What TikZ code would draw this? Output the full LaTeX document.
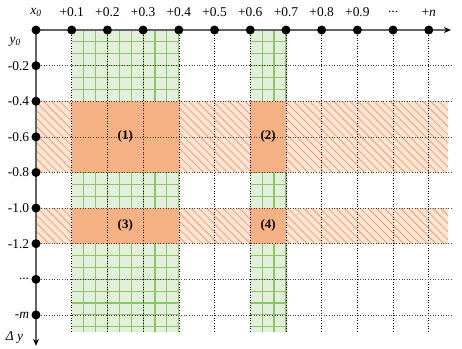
\documentclass[tikz,border=0pt]{standalone}
\usepackage{fontspec}
\setmainfont{Liberation Serif}
\usetikzlibrary{arrows.meta,patterns.meta}
\definecolor{bandgreen}{RGB}{226,239,218}
\definecolor{gridgreen}{RGB}{140,196,102}
\definecolor{bandorange}{RGB}{252,228,214}
\definecolor{hatchorange}{RGB}{245,160,95}
\definecolor{cellorange}{RGB}{244,177,131}
\definecolor{axisgray}{RGB}{100,100,100}

\tikzset{
  dot/.style={circle, fill=black, inner sep=0pt, minimum size=9bp},
  ticklabel/.style={inner sep=1bp},
  blocklabel/.style={font=\fontsize{13}{15}\selectfont\bfseries},
}

\begin{document}
\begin{tikzpicture}[>=stealth, x=35.7bp, y=35.6bp, font=\fontsize{13.5}{15}\selectfont]
  \useasboundingbox (-1.008,0.843) rectangle (11.93,-8.93);
  % green columns (x from +0.1 to +0.4 and +0.6 to +0.7), fine grid inside
  \foreach \a/\b in {1/4,6/7} {
    \fill[bandgreen] (\a,0) rectangle (\b,-8.48);
    \draw[gridgreen, line width=1.1bp, step={(1/3,1/3)}] (\a,0) grid (\b,-8.48);
  }
  % orange hatched rows (y from -0.4 to -0.8 and -1.0 to -1.2)
  \foreach \a/\b in {-2/-4,-5/-6} {
    \fill[bandorange] (0,\a) rectangle (11.54,\b);
    \fill[pattern={Lines[angle=-45,distance=5.7bp,line width=0.8bp]}, pattern color=hatchorange]
      (0,\a) rectangle (11.54,\b);
  }
  % where a column meets a row
  \foreach \a/\b in {1/4,6/7} \foreach \c/\d in {-2/-4,-5/-6}
    \fill[cellorange] (\a,\c) rectangle (\b,\d);
  % dotted grid
  \foreach \i in {1,...,11} \draw[dotted, line width=0.6bp] (\i,0) -- (\i,-8.48);
  \foreach \j in {1,...,8} \draw[dotted, line width=0.6bp, black!75] (0,-\j) -- (11.65,-\j);
  % axes
  \draw[axisgray, line width=1.3bp, -{Stealth[length=7bp, width=6bp, black]}] (0,0) -- (11.62,0);
  \draw[axisgray, line width=1.3bp, -{Stealth[length=7bp, width=6bp, black]}] (0,0) -- (0,-8.87);
  \foreach \i in {0,...,11} \node[dot] (x\i) at (\i,0) {};
  \foreach \j in {1,...,8} \node[dot] (y\j) at (0,-\j) {};
  % labels along x
  \node[ticklabel] (lx0) at (0,0.5) {\textit{x\textsubscript{0}}};
  \foreach \i/\t in {1/+0.1,2/+0.2,3/+0.3,4/+0.4,5/+0.5,6/+0.6,7/+0.7,8/+0.8,9/+0.9}
    \node[ticklabel] (lx\i) at (\i,0.5) {\t};
  \node[ticklabel] (lx10) at (10,0.5) {...};
  \node[ticklabel] (lx11) at (11,0.5) {+\textit{n}};
  % labels along y
  \node[ticklabel] (ly0) at (-0.58,-0.34) {\textit{y\textsubscript{0}}};
  \foreach \j/\t in {1/-0.2,2/-0.4,3/-0.6,4/-0.8,5/-1.0,6/-1.2}
    \node[ticklabel, anchor=east] (ly\j) at ([xshift=-1bp]y\j.west) {\t};
  \node[ticklabel, anchor=east] (ly7) at ([xshift=-1bp]y7.west) {...};
  \node[ticklabel, anchor=east] (ly8) at ([xshift=-1bp]y8.west) {-\textit{m}};
  \node[ticklabel] (ldy) at (-0.6,-8.63) {\textit{Δ y}};
  % the four blocks
  \node[blocklabel] (b1) at (2.5,-3) {(1)};
  \node[blocklabel] (b2) at (6.5,-3) {(2)};
  \node[blocklabel] (b3) at (2.5,-5.5) {(3)};
  \node[blocklabel] (b4) at (6.5,-5.5) {(4)};
\end{tikzpicture}
\end{document}
